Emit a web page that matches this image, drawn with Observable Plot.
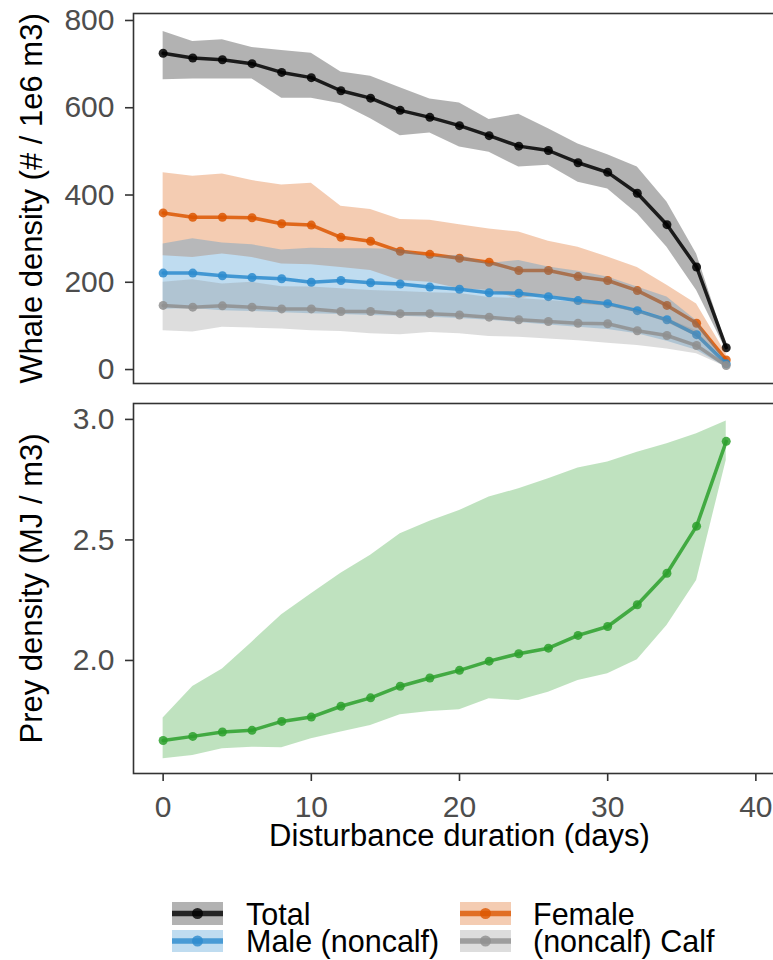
<!DOCTYPE html>
<html><head><meta charset="utf-8">
<script src="https://cdn.jsdelivr.net/npm/d3@7"></script>
<script src="https://cdn.jsdelivr.net/npm/@observablehq/plot@0.6"></script>
<style>
html,body{margin:0;padding:0;background:#fff;overflow:hidden;}
#wrap{width:773px;height:960px;overflow:hidden;position:relative;font-family:"Liberation Sans",Arial,sans-serif;}
#wrap svg{display:block;max-width:none !important;}
</style></head><body><div id="wrap"></div>
<script>
// ---- data ----
const days = [0,2,4,6,8,10,12,14,16,18,20,22,24,26,28,30,32,34,36,38];

const total   = [725,714,710,701,681,669,639,622,594,578,559,536,512,502,474,452,404,332,235,50];
const totalLo = [664,666,666,666,622,622,609,575,536,542,510,498,464,468,429,414,357,280,181,44];
const totalHi = [775,752,756,738,731,725,682,672,646,620,611,573,585,552,517,492,464,384,265,58];

const male   = [221,221,215,211,208,200,204,199,196,189,184,176,175,167,158,151,135,114,80,13];
const maleLo = [138,140,135,133,130,128,126,124,122,120,117,113,108,102,97,92,82,65,44,5];
const maleHi = [288,300,290,286,274,278,277,277,275,258,262,243,250,235,225,212,189,166,112,18];

const female   = [359,349,349,348,334,331,303,294,271,264,255,246,227,227,213,204,181,147,106,22];
const femaleLo = [261,257,265,257,242,240,234,227,204,200,185,181,162,172,150,145,130,108,75,12];
const femaleHi = [451,443,448,433,423,427,374,367,344,342,332,322,315,294,280,258,234,193,150,36];

const calf   = [147,143,146,143,139,139,133,133,128,128,125,120,114,110,106,105,89,78,55,9];
const calfLo = [89,86,97,95,93,89,87,82,80,85,82,76,74,70,66,60,55,47,36,6];
const calfHi = [200,206,196,200,190,189,185,181,179,176,174,165,163,158,154,147,135,117,89,14];

const prey   = [1.668,1.685,1.703,1.710,1.747,1.765,1.810,1.845,1.893,1.927,1.959,1.997,2.028,2.051,2.104,2.141,2.231,2.362,2.557,2.909];
const preyLo = [1.592,1.606,1.634,1.640,1.638,1.675,1.703,1.730,1.775,1.788,1.795,1.841,1.834,1.868,1.917,1.945,2.003,2.145,2.332,2.830];
const preyHi = [1.761,1.892,1.965,2.076,2.190,2.277,2.362,2.436,2.526,2.577,2.622,2.678,2.712,2.754,2.798,2.823,2.864,2.899,2.941,2.993];

const seriesNames  = ["Total","Female","Male (noncalf)","Calf"];
const seriesColors = ["#000000","#DC5600","#2C8BCE","#8F8F8F"];
const preyColor = "#2ca02c";

const whaleTicks = [0,200,400,600,800];
const preyTicks  = [2.0,2.5,3.0];
const dayTicks   = [0,10,20,30,40];

const legendRows = [
  {name:"Total", label:"Total"},
  {name:"Female", label:"Female"},
  {name:"Male (noncalf)", label:"Male (noncalf)"},
  {name:"Calf", label:"(noncalf) Calf"}
];

// ---- tables ----
const seriesData = [[total,totalLo,totalHi],[female,femaleLo,femaleHi],[male,maleLo,maleHi],[calf,calfLo,calfHi]];
const whale = seriesNames.flatMap((g,k) => days.map((d,i) => ({day:d, v:seriesData[k][0][i], lo:seriesData[k][1][i], hi:seriesData[k][2][i], group:g})));
const preyRows = days.map((d,i) => ({day:d, v:prey[i], lo:preyLo[i], hi:preyHi[i]}));

const FONT = '"Liberation Sans", Arial, sans-serif';
const common = {
  width: 800, marginLeft: 133, marginRight: 15,
  style: {fontFamily: FONT, fontSize: "30px", overflow: "visible", background: "transparent", maxWidth: "none"}
};
const axisStyle = {tickSize: 8, fontSize: 30, stroke: "#333333", strokeWidth: 1.6, fill: "#4D4D4D", label: null};
const titleStyle = {text: d => d, fontSize: 31, fill: "black", textAnchor: "middle"};

// each series: ribbon, then line and points (later ribbons tint earlier lines)
const seriesMarks = seriesNames.flatMap(g => {
  const f = d => d.group === g;
  return [
    Plot.areaY(whale, {filter: f, x:"day", y1:"lo", y2:"hi", fill:"group", fillOpacity:0.3}),
    Plot.line(whale, {filter: f, x:"day", y:"v", stroke:"group", strokeWidth:3.5, strokeOpacity:0.85}),
    Plot.dot(whale, {filter: f, x:"day", y:"v", fill:"group", r:4.5, fillOpacity:0.85})
  ];
});

const topPlot = Plot.plot({
  ...common, height: 390, marginTop: 13, marginBottom: 7,
  x: {domain: [-2, 42], axis: null},
  y: {domain: [-32, 816]},
  color: {domain: seriesNames, range: seriesColors},
  marks: [
    ...seriesMarks,
    Plot.axisY({...axisStyle, ticks: whaleTicks, tickPadding: 11}),
    Plot.frame({stroke:"#333333", strokeWidth:1.6}),
    Plot.text(["Whale density (# / 1e6 m3)"], {...titleStyle, frameAnchor:"left", dx:-101, rotate:-90})
  ]
});

const bottomPlot = Plot.plot({
  ...common, height: 470, marginTop: 13, marginBottom: 87,
  x: {domain: [-2, 42]},
  y: {domain: [1.531, 3.066]},
  marks: [
    Plot.areaY(preyRows, {x:"day", y1:"lo", y2:"hi", fill:preyColor, fillOpacity:0.3}),
    Plot.line(preyRows, {x:"day", y:"v", stroke:preyColor, strokeWidth:3.5, strokeOpacity:0.85}),
    Plot.dot(preyRows, {x:"day", y:"v", fill:preyColor, r:4.5, fillOpacity:0.85}),
    Plot.axisY({...axisStyle, ticks: preyTicks, tickFormat: d3.format(".1f"), tickPadding: 11}),
    Plot.axisX({...axisStyle, ticks: dayTicks, tickPadding: 14}),
    Plot.frame({stroke:"#333333", strokeWidth:1.6}),
    Plot.text(["Prey density (MJ / m3)"], {...titleStyle, frameAnchor:"left", dx:-101, rotate:-90}),
    Plot.text(["Disturbance duration (days)"], {...titleStyle, frameAnchor:"bottom", lineAnchor:"top", dy:50})
  ]
});

const wrap = document.getElementById("wrap");
wrap.appendChild(topPlot);
wrap.appendChild(bottomPlot);

// ---- legend ----
const colorOf = name => seriesColors[seriesNames.indexOf(name)];
const leg = d3.create("svg").attr("width", 773).attr("height", 100).style("display","block");
const slots = [{kx:172, tx:246, ky:42, kh:23, base:65}, {kx:460, tx:533, ky:42, kh:23, base:65},
               {kx:172, tx:246, ky:70, kh:22, base:92}, {kx:460, tx:533, ky:70, kh:22, base:92}];
legendRows.forEach((r, i) => {
  const s = slots[i], c = colorOf(r.name), kw = 51;
  const g = leg.append("g");
  g.append("rect").attr("x", s.kx).attr("y", s.ky).attr("width", kw).attr("height", s.kh).attr("fill", c).attr("fill-opacity", 0.3);
  g.append("line").attr("x1", s.kx).attr("x2", s.kx + kw).attr("y1", s.ky + s.kh/2).attr("y2", s.ky + s.kh/2)
    .attr("stroke", c).attr("stroke-opacity", 0.8).attr("stroke-width", 5.5);
  g.append("circle").attr("cx", s.kx + kw/2).attr("cy", s.ky + s.kh/2).attr("r", 5.5).attr("fill", c).attr("fill-opacity", 0.8);
  g.append("text").attr("x", s.tx).attr("y", s.base).attr("font-family", FONT).attr("font-size", 30.5).attr("fill", "black").text(r.label);
});
wrap.appendChild(leg.node());
</script>
</body></html>
